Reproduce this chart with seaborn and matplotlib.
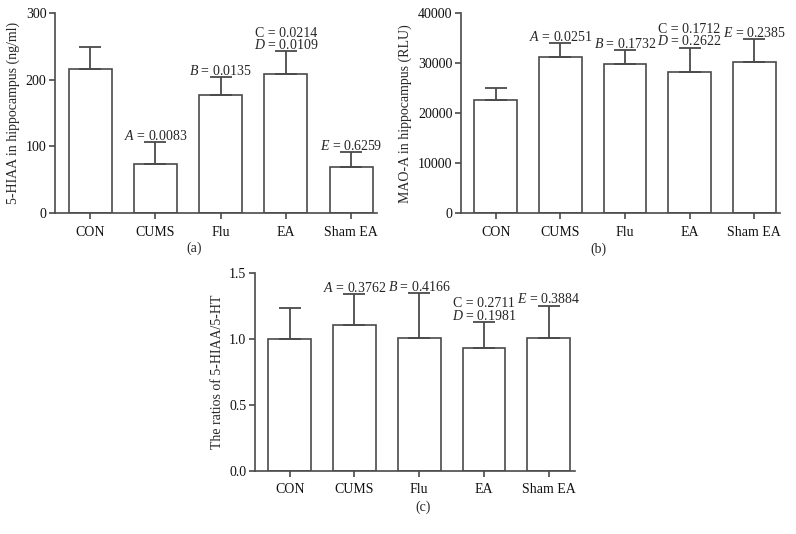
import numpy as np
import pandas as pd
import matplotlib
matplotlib.use('Agg')
import matplotlib.pyplot as plt
import seaborn as sns

# Groups
groups = ['CON', 'CUMS', 'Flu', 'EA', 'Sham EA']

# Panel (a): 5-HIAA
hiaa_mean = [217, 73, 178, 209, 69]
hiaa_err = [33, 33, 26, 34, 23]
hiaa_notes = ['', r'$\mathit{A}$ = 0.0083', r'$\mathit{B}$ = 0.0135',
              'C = 0.0214\n' + r'$\mathit{D}$ = 0.0109', r'$\mathit{E}$ = 0.6259']

# Panel (b): MAO-A
mao_mean = [22600, 31200, 29850, 28200, 30300]
mao_err = [2500, 2800, 2800, 4900, 4550]
mao_notes = ['', r'$\mathit{A}$ = 0.0251', r'$\mathit{B}$ = 0.1732',
             'C = 0.1712\n' + r'$\mathit{D}$ = 0.2622', r'$\mathit{E}$ = 0.2385']

# Panel (c): ratio 5-HIAA/5-HT
ratio_mean = [1.00, 1.11, 1.01, 0.93, 1.01]
ratio_err = [0.24, 0.23, 0.34, 0.20, 0.245]
ratio_notes = ['', r'$\mathit{A}$ = 0.3762', r'$\mathit{B}$ = 0.4166',
               'C = 0.2711\n' + r'$\mathit{D}$ = 0.1981', r'$\mathit{E}$ = 0.3884']

sns.set_style('ticks')
plt.rcParams['font.family'] = ['Liberation Serif', 'DejaVu Serif']
plt.rcParams['mathtext.fontset'] = 'custom'
plt.rcParams['mathtext.rm'] = 'Liberation Serif'
plt.rcParams['mathtext.it'] = 'Liberation Serif:italic'

line_col = '#4a4a4a'
fs = 10


def draw_panel(ax, means, errs, notes, ylabel, yticks, ylim, ticklabels):
    df = pd.DataFrame({'group': groups, 'value': means})
    sns.barplot(data=df, x='group', y='value', ax=ax, color='white',
                edgecolor=line_col, linewidth=1.2, width=0.66, errorbar=None)
    x = np.arange(len(groups))
    ax.errorbar(x, means, yerr=[np.zeros(len(errs)), errs], fmt='none',
                ecolor=line_col, elinewidth=1.3, capsize=7.9, capthick=1.3)
    for xi, m, e, note in zip(x, means, errs, notes):
        if note:
            ax.annotate(note, (xi, m + e), xytext=(0, -0.5), textcoords='offset points',
                        ha='center', va='bottom', fontsize=fs, linespacing=0.85)
    ax.set_xlim(-0.54, 4.4)
    ax.set_ylim(*ylim)
    ax.set_yticks(yticks)
    ax.set_yticklabels(ticklabels, fontsize=fs)
    ax.set_xticks(x)
    ax.set_xticklabels(groups, fontsize=fs)
    ax.set_xlabel('')
    ax.set_ylabel(ylabel, fontsize=fs, labelpad=4)
    sns.despine(ax=ax)
    for s in ['left', 'bottom']:
        ax.spines[s].set_color(line_col)
        ax.spines[s].set_linewidth(1.2)
    ax.tick_params(colors=line_col, labelcolor='#111111', length=4, width=1.2)
    ax.tick_params(axis='y', pad=2)
    ax.tick_params(axis='x', pad=5)


fig = plt.figure(figsize=(7.96, 5.34), dpi=100)
ax_a = fig.add_axes([0.069, 0.601, 0.405, 0.374])
ax_b = fig.add_axes([0.579, 0.601, 0.401, 0.374])
ax_c = fig.add_axes([0.320, 0.1185, 0.402, 0.3695])

draw_panel(ax_a, hiaa_mean, hiaa_err, hiaa_notes, '5-HIAA in hippocampus (ng/ml)',
           [0, 100, 200, 300], (0, 300), ['0', '100', '200', '300'])
draw_panel(ax_b, mao_mean, mao_err, mao_notes, 'MAO-A in hippocampus (RLU)',
           [0, 10000, 20000, 30000, 40000], (0, 40000),
           ['0', '10000', '20000', '30000', '40000'])
draw_panel(ax_c, ratio_mean, ratio_err, ratio_notes, 'The ratios of 5-HIAA/5-HT',
           [0, 0.5, 1.0, 1.5], (0, 1.5), ['0.0', '0.5', '1.0', '1.5'])

fig.text(194 / 796, 1 - 248 / 534, '(a)', ha='center', va='center', fontsize=fs)
fig.text(598 / 796, 1 - 249 / 534, '(b)', ha='center', va='center', fontsize=fs)
fig.text(423 / 796, 1 - 507 / 534, '(c)', ha='center', va='center', fontsize=fs)

fig.savefig('out.png', dpi=100, facecolor='white')
